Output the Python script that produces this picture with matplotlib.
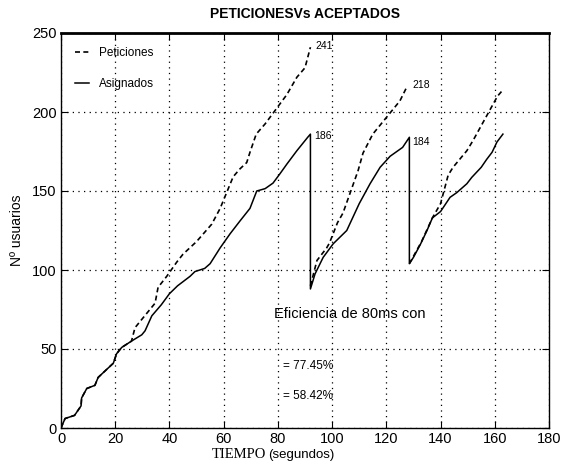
import numpy as np
import matplotlib
matplotlib.use("Agg")
import matplotlib.pyplot as plt

plt.rcParams['font.family'] = ['Liberation Sans', 'DejaVu Sans']

# ---- data ----
acept_t = [0, 1.5, 5, 7.4, 7.6, 9.5, 12.5, 13.7, 16.8, 19.3, 20.5, 22.4, 26, 29.8, 31, 33.5,
           37, 40, 43, 47.6, 49.4, 53, 55, 58.7, 62.4, 66, 69.7, 72.2, 75.3, 78.2, 80.8,
           83.3, 87, 91, 92,
           92, 93.7, 96.7, 100.4, 105.4, 110, 114, 117.7, 121.4, 126, 128.5,
           128.5, 130, 132.5, 135, 137, 140, 143.5, 146, 149.7, 151.5, 155, 157, 159, 160.8, 163]
acept_v = [0, 6, 8, 14, 19, 25, 27, 32, 37, 41, 47, 51, 55, 59, 61.5, 71,
           78, 85, 90, 96, 99, 101, 104, 114, 123, 131, 139, 150, 151.5, 155, 161,
           167, 175.5, 184, 186,
           88, 97.5, 108, 116.6, 125, 142, 154.6, 165, 172, 177.6, 184,
           104, 108, 116, 125, 133, 137, 146, 149, 154.6, 158.6, 165, 170, 174.5, 181, 186]

pet1_t = [0, 1.5, 5, 7.4, 7.6, 9.5, 12.5, 13.7, 16.8, 19.3, 20.5, 22.4, 26, 27.3, 34.7,
          35.8, 39, 42.7, 45, 50, 55.6, 58.7, 63.5, 66, 68.5, 69.7, 72, 75.3, 83.3, 87, 90, 92]
pet1_v = [0, 6, 8, 14, 19, 25, 27, 32, 37, 41, 47, 51, 55, 63.5, 79,
          89, 96, 105, 110, 118, 129, 139, 159, 164, 168, 174.5, 186, 192.5, 211, 222, 228, 241]
pet2_t = [92, 94.4, 98, 99, 102, 104, 109.6, 111.4, 115, 125, 127.6]
pet2_v = [90, 106, 114, 117, 130, 136, 163, 174, 186, 207, 216]
pet3_t = [128.5, 133, 137, 140, 142.8, 144.6, 149.7, 152, 161, 163]
pet3_v = [104, 118, 133, 142, 160, 165, 175.5, 182, 210, 214]

end_labels = ["241", "186", "218", "184"]
end_label_pos = [(94, 242), (93.5, 185), (129.5, 217), (129.5, 181)]

x_ticks = [0, 20, 40, 60, 80, 100, 120, 140, 160, 180]
y_ticks = [0, 50, 100, 150, 200, 250]

# ---- figure ----
fig = plt.figure(figsize=(5.61, 4.68), dpi=100)
ax = fig.add_axes([61/561, 40/468, 488/561, 395/468])

pet_t = pet1_t + [np.nan] + pet2_t + [np.nan] + pet3_t
pet_v = pet1_v + [np.nan] + pet2_v + [np.nan] + pet3_v

ax.plot(pet_t, pet_v, color='black', lw=1.2, ls=(0, (3, 2)), label='Peticiones')
ax.plot(acept_t, acept_v, color='black', lw=1.1, ls='-', label='Asignados')

for txt, (x, y) in zip(end_labels, end_label_pos):
    ax.text(x, y, txt, fontsize=7.5, ha='left', va='center')

ax.text(78.5, 72, "Eficiencia de 80ms con", fontsize=10.5, ha='left', va='center')
ax.text(82, 39, "= 77.45%", fontsize=8.5, ha='left', va='center')
ax.text(82, 20, "= 58.42%", fontsize=8.5, ha='left', va='center')

ax.set_xlim(0, 180)
ax.set_ylim(0, 250)
ax.set_xticks(x_ticks)
ax.set_yticks(y_ticks)
ax.tick_params(direction='in', length=5, top=True, right=True, labelsize=10.5, pad=3)
ax.grid(True, color='black', ls=(0, (1, 3.5)), lw=0.9)
for s in ax.spines.values():
    s.set_linewidth(1.0)
ax.spines['top'].set_linewidth(2.0)

ax.set_title("PETICIONESVs ACEPTADOS", fontsize=10, fontweight='bold', pad=11)
ax.set_ylabel("Nº usuarios", fontsize=10, labelpad=6)

fig.text(0.475, 0.015, "TIEMPO", fontsize=10.5, family='Liberation Serif', ha='right', va='bottom')
fig.text(0.478, 0.015, "(segundos)", fontsize=9.5, ha='left', va='bottom')

leg = ax.legend(loc='upper left', frameon=False, fontsize=8.5, handlelength=1.2,
                labelspacing=1.6, borderaxespad=0.8)

fig.savefig("out.png", dpi=100)
